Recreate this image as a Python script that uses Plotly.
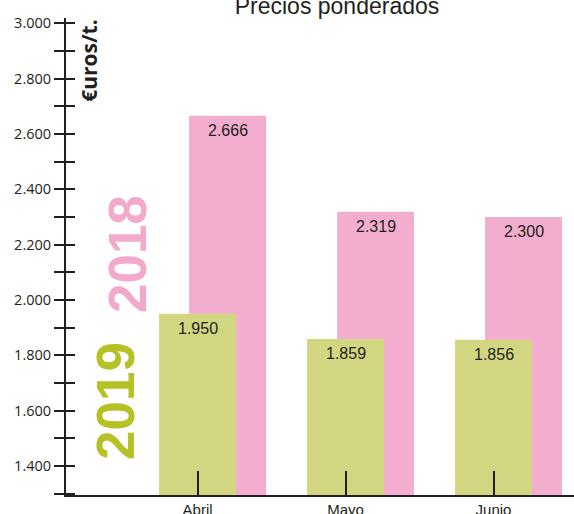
import plotly.graph_objects as go

# Monthly weighted prices (euros per tonne)
months = ["Abril", "Mayo", "Junio"]
prices_2018 = [2666, 2319, 2300]
prices_2019 = [1950, 1859, 1856]
y_tick_values = [1400, 1600, 1800, 2000, 2200, 2400, 2600, 2800, 3000]

PINK = "#F3ADCE"
GREEN = "#D3D680"
OLIVE = "#B6C126"
PINK_TEXT = "#F2A9CB"
INK = "#231F20"

BAR_W = 0.52
SHIFT_2018 = 0.203  # the 2018 bar sits slightly right of the 2019 bar
Y_RANGE = [1295, 3019]


def fmt(v):
    return f"{v:,}".replace(",", ".")


x_idx = list(range(len(months)))

fig = go.Figure()
fig.add_trace(go.Bar(
    x=x_idx, y=prices_2018, width=BAR_W, offset=-BAR_W / 2 + SHIFT_2018,
    marker=dict(color=PINK, line=dict(width=0)), name="2018", hoverinfo="skip",
))
fig.add_trace(go.Bar(
    x=x_idx, y=prices_2019, width=BAR_W, offset=-BAR_W / 2,
    marker=dict(color=GREEN, line=dict(width=0)), name="2019", hoverinfo="skip",
))
# Empty helper trace so the secondary y axis (inner tick marks) is drawn
fig.add_trace(go.Scatter(x=[], y=[], yaxis="y2", showlegend=False, hoverinfo="skip"))

annotations = []
for i, v in enumerate(prices_2018):
    annotations.append(dict(x=i + SHIFT_2018, y=v, xref="x", yref="y", text=fmt(v),
                            showarrow=False, yanchor="middle", yshift=-15,
                            font=dict(family="Liberation Sans, Arial", size=16, color=INK)))
for i, v in enumerate(prices_2019):
    annotations.append(dict(x=i, y=v, xref="x", yref="y", text=fmt(v),
                            showarrow=False, yanchor="middle", yshift=-15,
                            font=dict(family="Liberation Sans, Arial", size=16, color=INK)))

# Year labels and unit label set inside the plot area
annotations += [
    dict(x=0.12, y=0.505, xref="paper", yref="paper", text="<b>2018</b>", textangle=-90,
         showarrow=False, xanchor="center", yanchor="middle",
         font=dict(family="Liberation Sans, Arial", size=53, color=PINK_TEXT)),
    dict(x=0.0965, y=0.197, xref="paper", yref="paper", text="<b>2019</b>", textangle=-90,
         showarrow=False, xanchor="center", yanchor="middle",
         font=dict(family="Liberation Sans, Arial", size=53, color=OLIVE)),
    dict(x=0.045, y=0.912, xref="paper", yref="paper", text="<b>€uros/t.</b>", textangle=-90,
         showarrow=False, xanchor="center", yanchor="middle",
         font=dict(family="Open Sans", size=21, color=INK)),
]

fig.update_layout(
    width=574, height=514,
    margin=dict(l=66, r=0, t=18, b=19),
    paper_bgcolor="white", plot_bgcolor="white",
    barmode="overlay", showlegend=False,
    separators=",.",
    title=dict(text="Precios ponderados", x=337 / 574, xanchor="center",
               y=0.988, yanchor="middle", yref="container", automargin=False,
               font=dict(family="Liberation Sans, Arial", size=23, color=INK)),
    xaxis=dict(
        range=[-0.889, 2.544], tickmode="array", tickvals=x_idx, ticktext=months,
        ticks="inside", ticklen=24, tickwidth=1.5, tickcolor=INK,
        showline=True, linecolor=INK, linewidth=2, showgrid=False, zeroline=False,
        automargin=False,
        tickfont=dict(family="Liberation Sans, Arial", size=15, color=INK),
    ),
    yaxis=dict(
        range=Y_RANGE, tickmode="array", tickvals=y_tick_values,
        tickformat=",d", ticks="outside", ticklen=10, tickwidth=1.5, tickcolor=INK,
        minor=dict(dtick=100, tick0=0, ticks="outside", ticklen=10, tickwidth=1.5, tickcolor=INK),
        showline=True, linecolor=INK, linewidth=2, showgrid=False, zeroline=False,
        automargin=False,
        tickfont=dict(family="Open Sans", size=14.5, color=INK),
    ),
    yaxis2=dict(
        range=Y_RANGE, overlaying="y", anchor="x", side="left",
        dtick=100, tick0=0, ticks="inside", ticklen=9, tickwidth=1.5, tickcolor=INK,
        showticklabels=False, showline=False, showgrid=False, zeroline=False,
        automargin=False,
    ),
    annotations=annotations,
)

fig.write_html("out.html")
